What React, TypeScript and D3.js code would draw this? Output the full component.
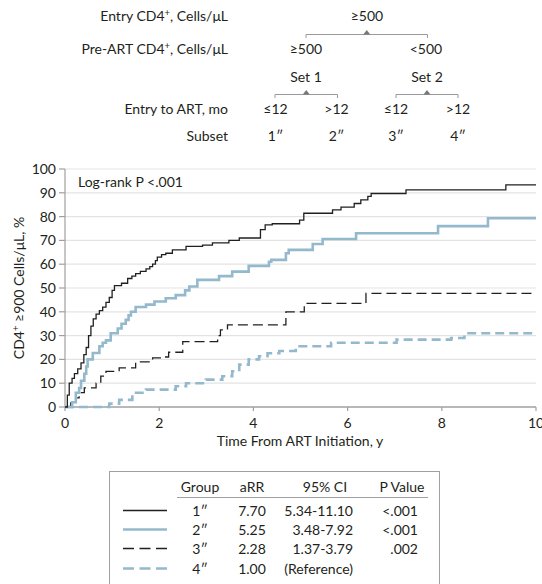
import React from 'react';
import * as d3 from 'd3';

// step data: [years, percent]
const group1 = [
  [0, 0], [0.05, 5], [0.09, 10], [0.15, 12], [0.2, 14], [0.27, 16], [0.34, 18.5], [0.4, 22],
  [0.45, 25], [0.5, 30], [0.55, 34], [0.6, 37], [0.66, 39], [0.73, 40.5], [0.8, 42], [0.87, 44],
  [0.94, 46], [1.0, 49], [1.05, 51], [1.2, 52], [1.33, 54], [1.42, 55], [1.5, 56], [1.6, 57],
  [1.72, 58], [1.8, 59], [1.86, 60], [1.92, 61.5], [1.96, 63], [2.05, 64], [2.14, 64.6], [2.28, 66],
  [2.57, 67.5], [2.92, 68], [3.13, 69], [3.48, 70], [3.7, 71], [4.15, 74.5], [4.25, 76.5], [4.4, 77],
  [4.98, 78.5], [5.07, 81.4], [5.68, 82.8], [5.86, 84], [6.14, 85.5], [6.28, 87], [6.43, 88.5],
  [6.5, 89.7], [7.24, 91.2], [9.36, 93.3], [10, 93.3],
];
const group2 = [
  [0, 0], [0.15, 2], [0.23, 6], [0.3, 8], [0.34, 11], [0.41, 14], [0.45, 17], [0.48, 20],
  [0.59, 22.7], [0.73, 25.5], [0.8, 27], [0.87, 28], [0.97, 31], [1.12, 33], [1.2, 35], [1.29, 36.6],
  [1.35, 38.5], [1.4, 40], [1.5, 42], [1.72, 43], [1.9, 44.3], [2.14, 45.7], [2.35, 47], [2.55, 49],
  [2.64, 50.6], [2.81, 53.4], [3.27, 55], [3.55, 56.9], [3.9, 59.3], [4.33, 61], [4.38, 61.8],
  [4.69, 64.6], [4.75, 66], [5.26, 68.5], [5.47, 70.6], [6.18, 73], [7.92, 76], [8.98, 79.3], [10, 79.3],
];
const group3 = [
  [0, 0], [0.12, 1.7], [0.23, 3.8], [0.3, 6], [0.41, 8], [0.66, 10], [0.76, 13], [0.87, 15],
  [1.15, 16.4], [1.5, 19], [1.86, 20.6], [2.07, 21], [2.2, 23], [2.5, 27.5], [3.24, 30], [3.3, 32.4],
  [3.45, 34.5], [4.69, 40], [5.08, 43.5], [6.39, 47.7], [10, 47.7],
];
const group4 = [
  [0, 0], [0.73, 0], [0.94, 1.4], [1.15, 3], [1.43, 6], [1.72, 7.3], [2.35, 8.7], [2.57, 10],
  [2.99, 11.5], [3.34, 12.9], [3.55, 15], [3.7, 17.8], [3.9, 20], [4.12, 21.3], [4.3, 22.6],
  [4.55, 23.5], [4.9, 25.5], [5.65, 27], [7.04, 28.3], [8.2, 29], [8.48, 31], [10, 31],
];

const groupLabels = ['1\u2033', '2\u2033', '3\u2033', '4\u2033'];
const aRR = ['7.70', '5.25', '2.28', '1.00'];
const ci95 = ['5.34-11.10', '3.48-7.92', '1.37-3.79', '(Reference)'];
const pValues = ['<.001', '<.001', '.002', ''];
const xTicks = [0, 2, 4, 6, 8, 10];
const yTicks = [0, 10, 20, 30, 40, 50, 60, 70, 80, 90, 100];

const BLACK = '#231f20';
const BLUE = '#94b9cc';
const styles = [
  { stroke: BLACK, width: 1.3, dash: null },
  { stroke: BLUE, width: 2.6, dash: null },
  { stroke: BLACK, width: 1.3, dash: '10,5' },
  { stroke: BLUE, width: 2.6, dash: '9,5' },
];
const FONT = 'Lato, "Open Sans", sans-serif';
const FS = 14;

const Bracket = ({ x1, x2, y }: { x1: number; x2: number; y: number }) => {
  const cx = (x1 + x2) / 2;
  return (
    <g>
      <path d={`M${x1},${y + 3.5}V${y}H${x2}V${y + 3.5}`} fill="none" stroke="#9a9a9a" strokeWidth={1} />
      <path d={`M${cx - 3.5},${y}L${cx},${y - 4.5}L${cx + 3.5},${y}Z`} fill="#777" />
    </g>
  );
};

const Sup = () => <tspan dy={-5} fontSize={9.5}>+</tspan>;

export default function App() {
  const x = d3.scaleLinear().domain([0, 10]).range([65, 536]);
  const y = d3.scaleLinear().domain([0, 100]).range([407, 169]);
  const line = d3.line<number[]>().x(d => x(d[0])).y(d => y(d[1])).curve(d3.curveStepAfter);
  const series = [group1, group2, group3, group4];

  const labelX = 228;
  const rows = [
    { y: 21, text: 'Entry CD4', sup: true, rest: ', Cells/\u03bcL' },
    { y: 54, text: 'Pre-ART CD4', sup: true, rest: ', Cells/\u03bcL' },
    { y: 114, text: 'Entry to ART, mo', sup: false, rest: '' },
    { y: 141, text: 'Subset', sup: false, rest: '' },
  ];
  const leafX = [275.5, 336.5, 396, 458];
  const tableRows = [511, 530, 549, 569];

  return (
    <svg width={542} height={584} style={{ position: 'absolute', left: 0, top: 0 }} fontFamily={FONT} fill="#231f20">
      {/* header tree */}
      {rows.map(r => (
        <text key={r.text} x={labelX} y={r.y} fontSize={FS} textAnchor="end">
          {r.text}
          {r.sup && <Sup />}
          {r.sup && <tspan dy={5}>{r.rest}</tspan>}
        </text>
      ))}
      <text x={367} y={21} fontSize={FS} textAnchor="middle">≥500</text>
      <Bracket x1={306} x2={427.5} y={34.5} />
      <text x={306} y={54} fontSize={FS} textAnchor="middle">≥500</text>
      <text x={426} y={54} fontSize={FS} textAnchor="middle">&lt;500</text>
      <text x={306} y={82} fontSize={FS} textAnchor="middle">Set 1</text>
      <text x={427} y={82} fontSize={FS} textAnchor="middle">Set 2</text>
      <Bracket x1={275} x2={337.5} y={94.5} />
      <Bracket x1={396} x2={458} y={94.5} />
      {['≤12', '>12', '≤12', '>12'].map((t, i) => (
        <text key={'e' + i} x={leafX[i]} y={114} fontSize={FS} textAnchor="middle">{t}</text>
      ))}
      {groupLabels.map((t, i) => (
        <text key={'s' + i} x={leafX[i]} y={141} fontSize={FS} textAnchor="middle">{t}</text>
      ))}

      {/* grid */}
      {yTicks.filter(t => t > 0).map(t => (
        <line key={'g' + t} x1={x(0)} x2={x(10)} y1={y(t)} y2={y(t)} stroke="#e3e3e3" strokeWidth={1.2} />
      ))}
      {/* axes */}
      <line x1={x(0)} x2={x(0)} y1={y(0)} y2={y(100)} stroke="#a0a0a0" strokeWidth={1.2} />
      <line x1={x(0)} x2={x(10)} y1={y(0)} y2={y(0)} stroke="#a0a0a0" strokeWidth={1.5} />
      {yTicks.map(t => (
        <g key={'y' + t}>
          <line x1={x(0) - 6} x2={x(0)} y1={y(t)} y2={y(t)} stroke="#a0a0a0" strokeWidth={1.2} />
          <text x={56} y={y(t) + 5} fontSize={FS} textAnchor="end">{t}</text>
        </g>
      ))}
      {xTicks.map(t => (
        <g key={'x' + t}>
          <line x1={x(t)} x2={x(t)} y1={y(0)} y2={y(0) + 4} stroke="#a0a0a0" strokeWidth={1.2} />
          <text x={x(t)} y={428} fontSize={FS} textAnchor="middle">{t}</text>
        </g>
      ))}
      <text x={300} y={446} fontSize={FS} textAnchor="middle">Time From ART Initiation, y</text>
      <text transform="translate(24,288) rotate(-90)" fontSize={FS} textAnchor="middle">
        CD4<Sup /><tspan dy={5}> ≥900 Cells/μL, %</tspan>
      </text>
      <text x={78} y={187} fontSize={FS}>Log-rank P &lt;.001</text>

      {/* curves */}
      {[3, 2, 1, 0].map(i => (
        <path key={'c' + i} d={line(series[i] as number[][]) || ''} fill="none" stroke={styles[i].stroke}
          strokeWidth={styles[i].width} strokeDasharray={styles[i].dash || undefined} />
      ))}

      {/* legend table */}
      <rect x={109.5} y={471.5} width={330} height={130} fill="none" stroke="#a0a0a0" strokeWidth={1} />
      <line x1={177} x2={428} y1={497.5} y2={497.5} stroke="#a0a0a0" strokeWidth={1} />
      <text x={200} y={492} fontSize={FS} textAnchor="middle">Group</text>
      <text x={252} y={492} fontSize={FS} textAnchor="middle">aRR</text>
      <text x={325} y={492} fontSize={FS} textAnchor="middle">95% CI</text>
      <text x={402} y={492} fontSize={FS} textAnchor="middle">P Value</text>
      {tableRows.map((ry, i) => (
        <g key={'r' + i}>
          <line x1={123} x2={167} y1={ry - 0.5} y2={ry - 0.5} stroke={styles[i].stroke}
            strokeWidth={styles[i].width} strokeDasharray={i >= 2 ? '11,5.5' : undefined} />
          <text x={200} y={ry + 5} fontSize={FS} textAnchor="middle">{groupLabels[i]}</text>
          <text x={252} y={ry + 5} fontSize={FS} textAnchor="middle">{aRR[i]}</text>
          <text x={353} y={ry + 5} fontSize={FS} textAnchor="end">{ci95[i]}</text>
          <text x={418} y={ry + 5} fontSize={FS} textAnchor="end">{pValues[i]}</text>
        </g>
      ))}
    </svg>
  );
}
